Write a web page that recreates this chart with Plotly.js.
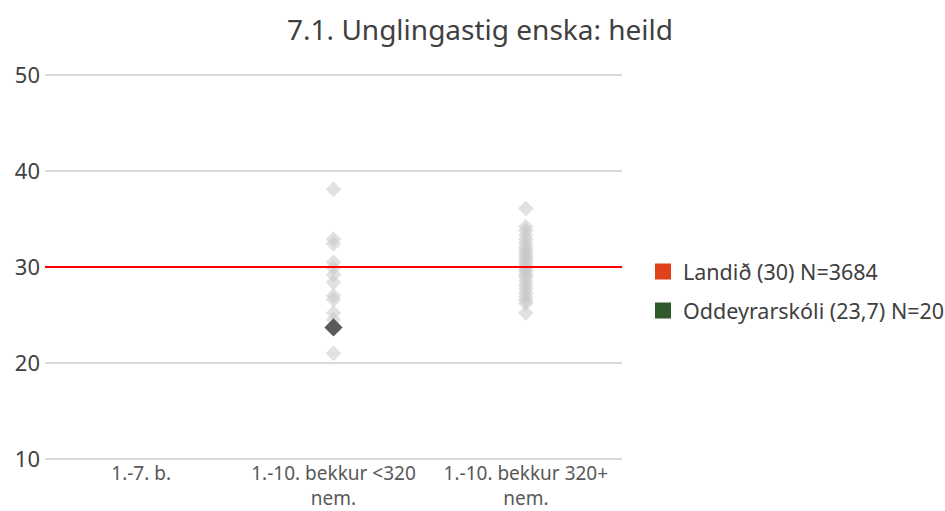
<!DOCTYPE html>
<html><head><meta charset="utf-8">
<script src="https://cdn.plot.ly/plotly-3.0.1.min.js"></script>
<style>body{margin:0;background:#fff}#c{width:945px;height:511px}</style>
</head><body><div id="c"></div>
<script>
const categories = ["1.-7. b.", "1.-10. bekkur <320<br>nem.", "1.-10. bekkur 320+<br>nem."];
const schoolsSmall = [38.1, 32.9, 32.4, 30.5, 29.9, 29.2, 28.4, 27.0, 26.6, 25.2, 24.5, 21.0];
const schoolsLarge = [36.1, 34.2, 33.8, 33.3, 32.9, 32.5, 32.1, 31.8, 31.5, 31.2, 31.0, 30.7, 30.4, 30.1, 29.8, 29.5, 29.2, 28.9, 28.5, 28.1, 27.7, 27.3, 26.9, 26.5, 26.2, 25.2];
const nationalMean = 30;
const schoolName = "Oddeyrarskóli (23,7) N=20";
const nationalName = "Landið (30) N=3684";
const schoolValue = 23.7;
const schoolCategory = categories[1];
const yTicks = [10, 20, 30, 40, 50];

const font = "'Noto Sans', 'Open Sans', sans-serif";
const traces = [
  {x: [0, 1], y: [nationalMean, nationalMean], xaxis: "x2", type: "scatter", mode: "lines",
   line: {color: "#ff0000", width: 2}, showlegend: false, hoverinfo: "skip"},
  {x: schoolsSmall.map(() => categories[1]), y: schoolsSmall, type: "scatter", mode: "markers",
   marker: {symbol: "diamond", size: 12, color: "rgba(200,200,200,0.55)"}, showlegend: false, hoverinfo: "y"},
  {x: schoolsLarge.map(() => categories[2]), y: schoolsLarge, type: "scatter", mode: "markers",
   marker: {symbol: "diamond", size: 12, color: "rgba(200,200,200,0.55)"}, showlegend: false, hoverinfo: "y"},
  {x: [schoolCategory], y: [schoolValue], type: "scatter", mode: "markers",
   marker: {symbol: "diamond", size: 14, color: "#595959"}, showlegend: false},
  {x: [null], y: [null], type: "scatter", mode: "markers", name: nationalName, legendgroup: "a",
   marker: {symbol: "square", size: 16, color: "#e0401c"}},
  {x: [null], y: [null], type: "scatter", mode: "markers", name: schoolName, legendgroup: "b",
   marker: {symbol: "square", size: 16, color: "#2f5a2a"}}
];
const layout = {
  width: 945, height: 511,
  margin: {l: 45, r: 323, t: 74, b: 51, autoexpand: false},
  paper_bgcolor: "#fff", plot_bgcolor: "#fff",
  font: {family: font, color: "#404040"},
  title: {text: "7.1. Unglingastig enska: heild", x: 0.508, xanchor: "center", y: 0.94, yanchor: "middle",
          font: {size: 28, color: "#404040", family: font}},
  xaxis: {type: "category", categoryorder: "array", categoryarray: categories, tickvals: categories,
          range: [-0.5, 2.5], showgrid: false, zeroline: false, showline: false, ticks: "",
          tickfont: {size: 19, color: "#595959"}},
  xaxis2: {overlaying: "x", range: [0, 1], visible: false, showgrid: false, zeroline: false},
  yaxis: {range: [9.88, 50.12], tickvals: yTicks, showgrid: true, gridcolor: "#d9d9d9", gridwidth: 1.5,
          zeroline: false, showline: false, ticks: "", tickfont: {size: 22, color: "#404040"}, ticklabelstandoff: 4},
  legend: {x: 1.0364, xanchor: "left", y: 0.4375, yanchor: "middle", font: {size: 21.5, color: "#404040"},
           itemwidth: 30, tracegroupgap: 8, bgcolor: "rgba(0,0,0,0)"},
  showlegend: true
};
Plotly.newPlot("c", traces, layout, {displayModeBar: false, staticPlot: true});
</script></body></html>
